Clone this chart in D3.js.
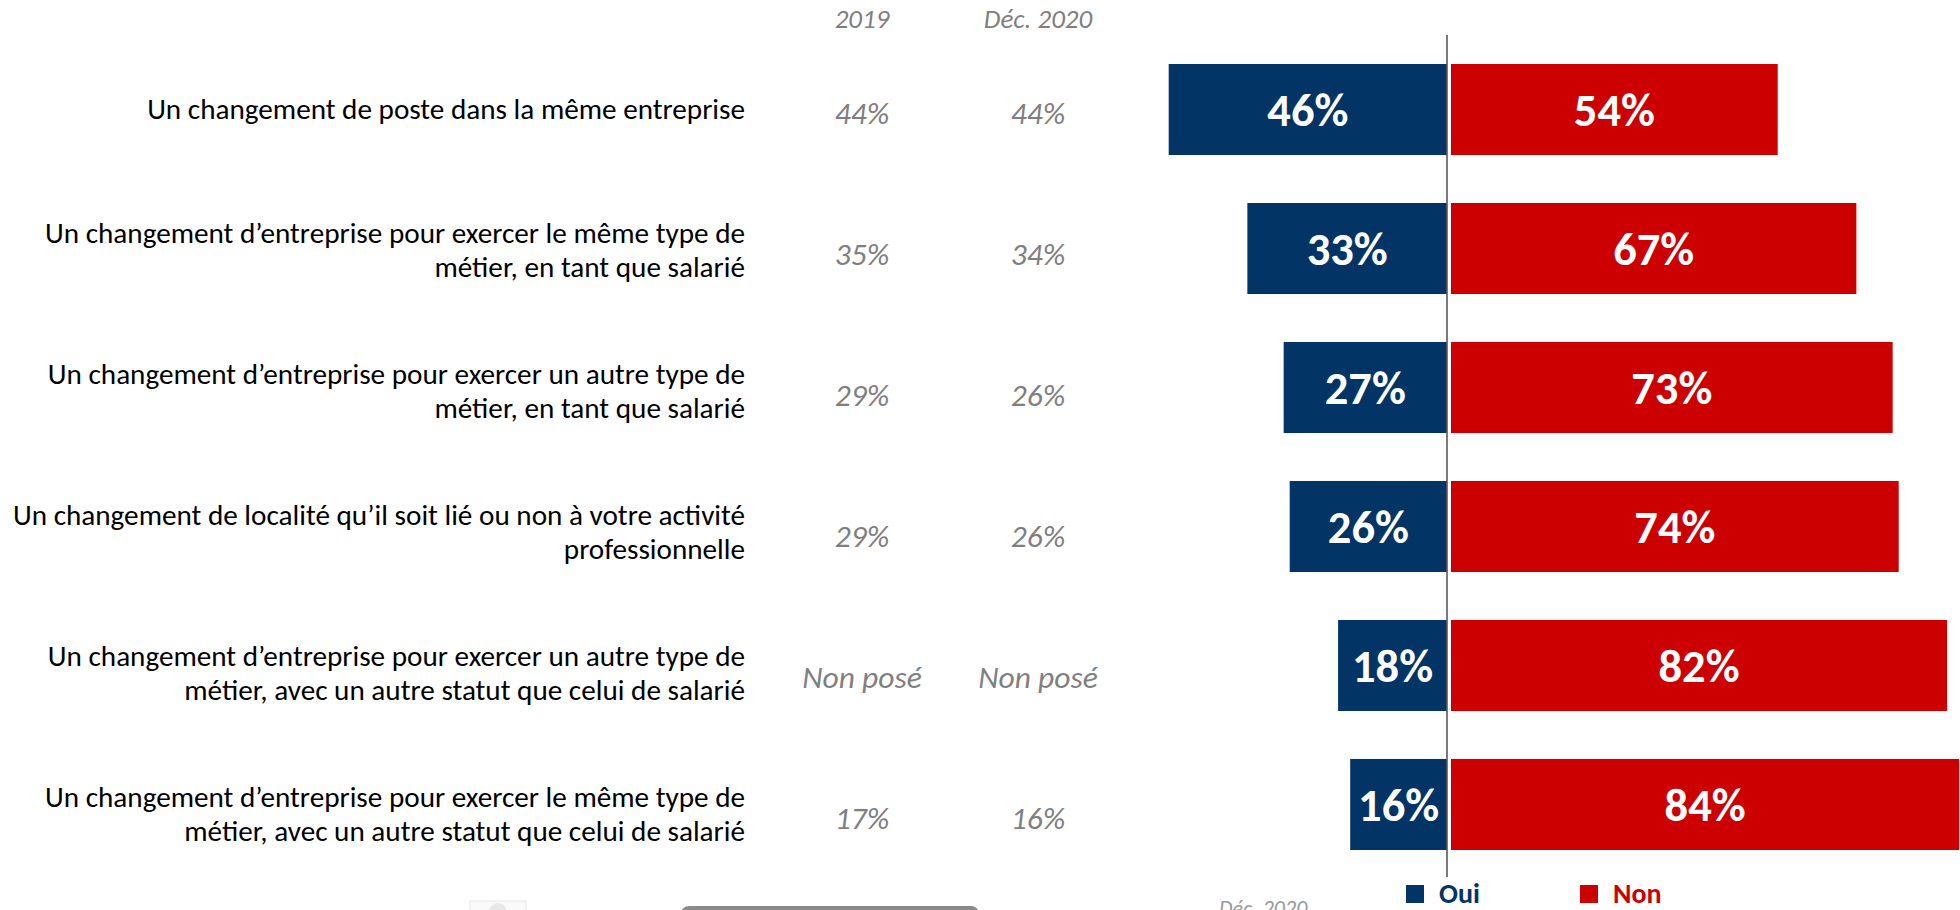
<!DOCTYPE html>
<html><head><meta charset="utf-8">
<script src="https://cdn.jsdelivr.net/npm/d3@7"></script>
<style>
html,body{margin:0;padding:0;background:#fff;}
svg{display:block;}
</style></head>
<body>
<svg id="chart" width="1960" height="910"></svg>
<script>
const categories = [
  ["Un changement de poste dans la même entreprise"],
  ["Un changement d’entreprise pour exercer le même type de", "métier, en tant que salarié"],
  ["Un changement d’entreprise pour exercer un autre type de", "métier, en tant que salarié"],
  ["Un changement de localité qu’il soit lié ou non à votre activité", "professionnelle"],
  ["Un changement d’entreprise pour exercer un autre type de", "métier, avec un autre statut que celui de salarié"],
  ["Un changement d’entreprise pour exercer le même type de", "métier, avec un autre statut que celui de salarié"]
];
const oui = [46, 33, 27, 26, 18, 16];
const non = [54, 67, 73, 74, 82, 84];
const col2019 = ["44%", "35%", "29%", "29%", "Non posé", "17%"];
const colDec2020 = ["44%", "34%", "26%", "26%", "Non posé", "16%"];
const columnHeaders = ["2019", "Déc. 2020"];
const seriesNames = ["Oui", "Non"];

const NAVY = "#023466", RED = "#CC0000", GREY = "#7F7F7F";
const FONT = "Carlito, Calibri, Lato, 'Open Sans', sans-serif";

const svg = d3.select("#chart");
const ids = categories.map((c, i) => i);

const y = d3.scaleBand().domain(ids).range([40, 874]).paddingInner(0.345).paddingOuter(0.1727);
const yText = d3.scalePoint().domain(ids).range([109, 814]);
const x = d3.scaleLinear().domain([0, 100]).range([0, 605]);
const axisX = 1447, redStart = 1451;
const colX = d3.scalePoint().domain(columnHeaders).range([862, 1038]);

// category labels
const lab = svg.append("g").attr("font-family", FONT).attr("font-size", 29.2).attr("fill", "#000").attr("text-anchor", "end");
categories.forEach((lines, i) => {
  const t = lab.append("text").attr("x", 745).attr("y", yText(i));
  const n = lines.length, lh = 34;
  lines.forEach((s, k) => {
    t.append("tspan").attr("x", 745).attr("y", yText(i) + (k - (n - 1) / 2) * lh).attr("dy", "0.35em").text(s);
  });
});

// column headers and values
const cols = svg.append("g").attr("font-family", FONT).attr("font-style", "italic").attr("fill", GREY).attr("text-anchor", "middle");
cols.selectAll("text.h").data(columnHeaders).join("text").attr("class", "h")
  .attr("x", d => colX(d)).attr("y", 19).attr("dy", "0.35em").attr("font-size", 27).text(d => d);
[col2019, colDec2020].forEach((arr, c) => {
  cols.selectAll("text.v" + c).data(arr).join("text").attr("class", "v" + c)
    .attr("x", colX(columnHeaders[c])).attr("y", (d, i) => yText(i) + 4).attr("dy", "0.35em")
    .attr("font-size", 31.5).text(d => d);
});

// bars
const bars = svg.append("g");
bars.selectAll("rect.oui").data(oui).join("rect").attr("class", "oui")
  .attr("x", d => axisX - x(d)).attr("y", (d, i) => y(i)).attr("width", d => x(d)).attr("height", y.bandwidth()).attr("fill", NAVY);
bars.selectAll("rect.non").data(non).join("rect").attr("class", "non")
  .attr("x", redStart).attr("y", (d, i) => y(i)).attr("width", d => x(d)).attr("height", y.bandwidth()).attr("fill", RED);

// axis line
svg.append("line").attr("x1", axisX).attr("x2", axisX).attr("y1", 35).attr("y2", 877)
  .attr("stroke", "#595959").attr("stroke-width", 1.6);

// bar labels
const bl = svg.append("g").attr("font-family", FONT).attr("font-weight", "bold").attr("font-size", 46.5).attr("fill", "#fff").attr("text-anchor", "middle");
bl.selectAll("text.o").data(oui).join("text").attr("class", "o")
  .attr("x", d => axisX - x(d) / 2).attr("y", (d, i) => y(i) + y.bandwidth() / 2).attr("dy", "0.36em").text(d => d + "%");
bl.selectAll("text.n").data(non).join("text").attr("class", "n")
  .attr("x", d => redStart + x(d) / 2).attr("y", (d, i) => y(i) + y.bandwidth() / 2).attr("dy", "0.36em").text(d => d + "%");

// legend
const legX = [1406, 1580];
const leg = svg.append("g").attr("font-family", FONT).attr("font-weight", "bold").attr("font-size", 28);
seriesNames.forEach((s, i) => {
  const c = i === 0 ? NAVY : RED;
  leg.append("rect").attr("x", legX[i]).attr("y", 885).attr("width", 18).attr("height", 18).attr("fill", c);
  leg.append("text").attr("x", legX[i] + 33).attr("y", 903).attr("fill", c).text(s);
});

// cropped slide artefacts at the bottom
const art = svg.append("g");
art.append("rect").attr("x", 470).attr("y", 901).attr("width", 56).attr("height", 20).attr("fill", "#fafafa").attr("stroke", "#e6e6e6");
art.append("circle").attr("cx", 498).attr("cy", 912).attr("r", 9).attr("fill", "#e8e8e8");
art.append("rect").attr("x", 681).attr("y", 906).attr("width", 298).attr("height", 20).attr("rx", 8).attr("fill", "#8a8a8a");
art.append("text").attr("x", 1219).attr("y", 916).attr("font-family", FONT).attr("font-style", "italic").attr("font-size", 22).attr("fill", "#9a9a9a").text("Déc. 2020");
</script>
</body></html>
